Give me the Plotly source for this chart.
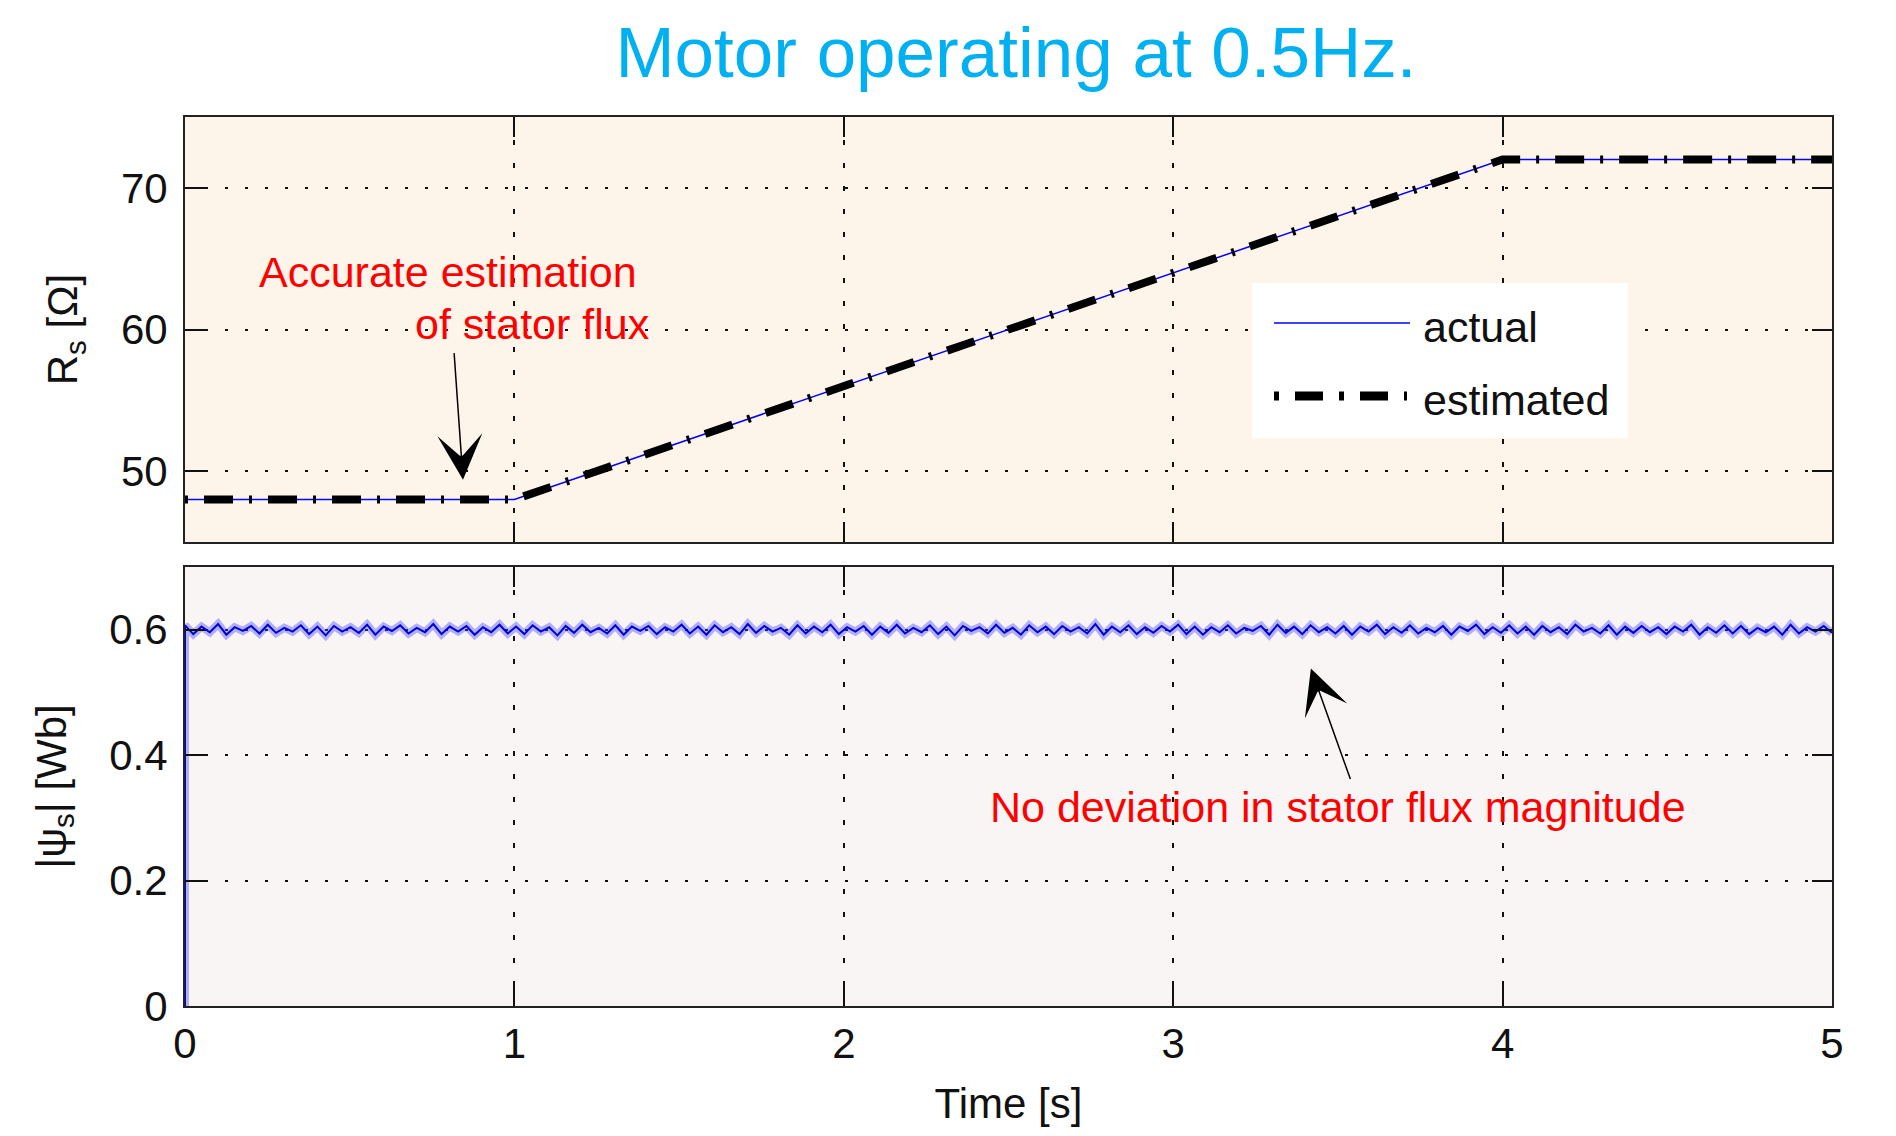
import numpy as np
import plotly.graph_objects as go

# ---------------- data ----------------
rs_time = [0, 1, 4, 5]
rs_actual = [48, 48, 72, 72]
rs_estimated = [48, 48, 72, 72]

flux_start = [0]
flux_mwb = [
    607, 593, 605, 596, 609, 592, 604, 598, 606, 594, 608, 595, 603, 597, 607, 593, 605, 591, 606, 597,
    604, 595, 608, 592, 605, 598, 607, 594, 603, 596, 609, 593, 605, 597, 606, 592, 604, 596, 608, 594,
    605, 593, 607, 597, 604, 591, 606, 595, 608, 596, 603, 594, 607, 592, 605, 598, 606, 593, 604, 597,
    608, 594, 605, 592, 607, 596, 604, 593, 609, 595, 606, 597, 603, 592, 607, 594, 605, 596, 608, 593,
    604, 597, 606, 592, 605, 595, 608, 594, 603, 596, 607, 593, 605, 591, 606, 598, 604, 594, 608, 595,
    603, 592, 607, 596, 605, 593, 606, 597, 604, 594, 609, 592, 605, 596, 607, 593, 604, 595, 606, 597,
    608, 593, 605, 592, 604, 596, 607, 594, 603, 598, 606, 592, 608, 595, 605, 593, 607, 596, 604, 594,
    606, 592, 605, 597, 608, 593, 604, 595, 607, 594, 603, 596, 606, 592, 605, 598, 608, 593, 604, 595,
    607, 594, 605, 592, 606, 596, 604, 593, 608, 597, 603, 594, 607, 592, 605, 595, 606, 596, 604, 593,
    605, 597, 608, 592, 604, 595, 607, 594, 606, 593, 603, 596, 605, 592, 608, 594, 604, 597, 606, 595,
]
t_end = 5

x_ticks = [0, 1, 2, 3, 4, 5]
rs_ticks = [50, 60, 70]
flux_ticks = [0, 0.2, 0.4, 0.6]
flux_tick_text = ["0", "0.2", "0.4", "0.6"]

title_text = "Motor operating at 0.5Hz."
legend_names = ["actual", "estimated"]
note_top = ["Accurate estimation", "of stator flux"]
note_bottom = "No deviation in stator flux magnitude"

# ---------------- figure ----------------
FONT = "Liberation Sans, Arial, sans-serif"
flux_t = [0.0] + list(np.linspace(0, t_end, len(flux_mwb)))
flux_v = [v / 1000 for v in flux_start + flux_mwb]

fig = go.Figure()
fig.add_trace(go.Scatter(x=rs_time, y=rs_actual, mode="lines", name=legend_names[0],
                         line=dict(color="#0000FF", width=1.5), xaxis="x", yaxis="y",
                         showlegend=False))
fig.add_trace(go.Scatter(x=rs_time, y=rs_estimated, mode="lines", name=legend_names[1],
                         line=dict(color="#000000", width=8, dash="3px,16px,29px,16px"),
                         xaxis="x", yaxis="y", showlegend=False))
fig.add_trace(go.Scatter(x=flux_t, y=flux_v, mode="lines",
                         line=dict(color="rgba(70,70,255,0.4)", width=8),
                         xaxis="x2", yaxis="y2", showlegend=False, hoverinfo="skip"))
fig.add_trace(go.Scatter(x=flux_t, y=flux_v, mode="lines",
                         line=dict(color="#0000D8", width=2),
                         xaxis="x2", yaxis="y2", showlegend=False))

# the page body has an 8px margin; figure sized so that the screen layout matches
OFF = 8
W, H = 1880, 1120
PL, PR, PT, PB = 185, 1832, 117, 1006   # target plot box on screen
L, T = PL - OFF, PT - OFF
R = W + OFF - PR
B = H + OFF - PB
pw, ph = PR - PL, PB - PT

def px(xp):
    return (xp - PL) / pw

def py(yp):
    return (PB - yp) / ph

tickfont = dict(family=FONT, size=42, color="#111111")
common_x = dict(range=[0, t_end], tickmode="array", tickvals=x_ticks, ticks="inside", ticklen=20,
                tickwidth=1.5, tickcolor="#111", showline=True, linecolor="#222", linewidth=2,
                mirror="ticks", showgrid=True, gridcolor="#111", gridwidth=1.5, griddash="5px,18px",
                zeroline=False, tickfont=tickfont, automargin=False)
common_y = dict(ticks="inside", ticklen=20, tickwidth=1.5, tickcolor="#111", showline=True,
                linecolor="#222", linewidth=2, mirror="ticks", showgrid=True, gridcolor="#111",
                gridwidth=1.5, griddash="3px,17px", zeroline=False, tickfont=tickfont,
                ticklabelstandoff=7, automargin=False)

top_lo = py(542)
bot_hi = py(567)

fig.update_layout(
    width=W, height=H,
    margin=dict(l=L, r=R, t=T, b=B, autoexpand=False),
    paper_bgcolor="white",
    plot_bgcolor="#FDF5EA",
    font=dict(family=FONT, color="#111"),
    title=dict(text=title_text, x=px(1016), xref="paper", xanchor="center",
               y=1 - 44 / H, yref="container", yanchor="middle",
               font=dict(family=FONT, size=71, color="#00B0F0")),
    xaxis=dict(common_x, domain=[0, 1], anchor="y", showticklabels=False),
    yaxis=dict(common_y, domain=[top_lo, 1], anchor="x", range=[45, 75], tickvals=rs_ticks,
               title=dict(text="R<sub>s</sub> [Ω]", font=dict(family=FONT, size=42, color="#111"),
                          standoff=30)),
    xaxis2=dict(common_x, domain=[0, 1], anchor="y2", showticklabels=True, ticklabelstandoff=0,
                title=dict(text="Time [s]", font=dict(family=FONT, size=42, color="#111"),
                           standoff=22)),
    yaxis2=dict(common_y, domain=[0, bot_hi], anchor="x2", range=[0, 0.7], tickvals=flux_ticks,
                ticktext=flux_tick_text,
                title=dict(text="|ψ<sub>s</sub>| [Wb]", font=dict(family=FONT, size=42, color="#111"),
                           standoff=30)),
)

# bottom plot background
fig.add_shape(type="rect", xref="x2 domain", yref="y2 domain", x0=0, x1=1, y0=0, y1=1,
              fillcolor="#F9F5F4", line=dict(width=0), layer="below")

# manual legend box
fig.add_shape(type="rect", xref="paper", yref="paper", x0=px(1252), x1=px(1628),
              y0=py(438), y1=py(283), fillcolor="white", line=dict(width=0), layer="above")
fig.add_shape(type="line", xref="paper", yref="paper", x0=px(1274), x1=px(1410),
              y0=py(323), y1=py(323), line=dict(color="#0000FF", width=1.5))
fig.add_shape(type="line", xref="paper", yref="paper", x0=px(1274), x1=px(1407),
              y0=py(396), y1=py(396), line=dict(color="#000000", width=9, dash="5px,16px,28px,16px"))
for name, yy in zip(legend_names, [327, 400]):
    fig.add_annotation(text=name, xref="paper", yref="paper", x=px(1421), y=py(yy),
                       xanchor="left", yanchor="middle", showarrow=False,
                       font=dict(family=FONT, size=43, color="#111"))

# red notes
red = dict(family=FONT, size=43, color="#FF0000")
fig.add_annotation(text=note_top[0], xref="x", yref="y", x=0.798, y=64.05, showarrow=False, font=red)
fig.add_annotation(text=note_top[1], xref="x", yref="y", x=1.056, y=60.38, showarrow=False, font=red)
fig.add_annotation(text="", xref="x", yref="y", x=0.844, y=49.4, ax=-9, ay=-128,
                   showarrow=True, arrowhead=3, arrowwidth=1.5, arrowsize=5, arrowcolor="#000")
fig.add_annotation(text=note_bottom, xref="x2", yref="y2", x=3.50, y=0.317, showarrow=False, font=red)
fig.add_annotation(text="", xref="x2", yref="y2", x=3.418, y=0.538, ax=40, ay=112,
                   showarrow=True, arrowhead=3, arrowwidth=1.5, arrowsize=5, arrowcolor="#000")

fig.write_html("out.html")
